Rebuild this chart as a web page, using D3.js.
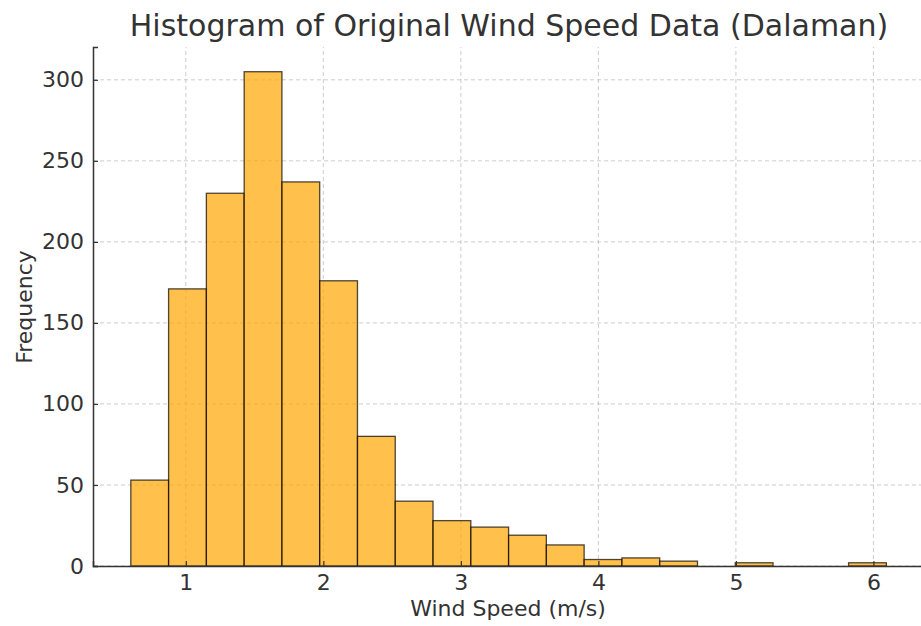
<!DOCTYPE html>
<html>
<head>
<meta charset="utf-8">
<script src="https://cdn.jsdelivr.net/npm/d3@7"></script>
<style>
  body { margin: 0; background: #fff; }
  text { font-family: "DejaVu Sans", sans-serif; fill: #333; }
</style>
</head>
<body>
<script>
// bin edges and counts
var binStart = 0.6;
var binEnd = 6.094;
var counts = [53, 171, 230, 305, 237, 176, 80, 40, 28, 24, 19, 13, 4, 5, 3, 0, 2, 0, 0, 2];
var xTicks = [1, 2, 3, 4, 5, 6];
var yTicks = [0, 50, 100, 150, 200, 250, 300];

var width = 921, height = 626;
var svg = d3.select("body").append("svg")
    .attr("width", width)
    .attr("height", height);

// matplotlib-style 5% padding: plot runs a bit past the right edge
var x = d3.scaleLinear().domain([0.325, 6.375]).range([93, 925]);
var y = d3.scaleLinear().domain([0, 320.25]).range([566, 47]);

var binW = (binEnd - binStart) / counts.length;
var bins = counts.map(function(c, i) {
    return { x0: binStart + i * binW, x1: binStart + (i + 1) * binW, n: c };
});

// grid
var grid = svg.append("g")
    .attr("stroke", "#b0b0b0")
    .attr("stroke-opacity", 0.7)
    .attr("stroke-dasharray", "4,3")
    .attr("stroke-width", 0.9);
grid.selectAll(".gx").data(xTicks).enter().append("line")
    .attr("x1", d => x(d)).attr("x2", d => x(d))
    .attr("y1", y.range()[0]).attr("y2", y.range()[1]);
grid.selectAll(".gy").data(yTicks).enter().append("line")
    .attr("x1", x.range()[0]).attr("x2", x.range()[1])
    .attr("y1", d => y(d)).attr("y2", d => y(d));

// bars
svg.append("g").selectAll("rect")
    .data(bins.filter(d => d.n > 0))
    .enter().append("rect")
    .attr("x", d => x(d.x0))
    .attr("width", d => x(d.x1) - x(d.x0))
    .attr("y", d => y(d.n))
    .attr("height", d => y(0) - y(d.n))
    .attr("fill", "#ffa500")
    .attr("fill-opacity", 0.7)
    .attr("stroke", "#000")
    .attr("stroke-opacity", 0.7)
    .attr("stroke-width", 1.3);

// axes (ticks point inward)
var xAxis = svg.append("g")
    .attr("transform", "translate(0," + y(0) + ")")
    .call(d3.axisBottom(x).tickValues(xTicks).tickFormat(d3.format("d"))
        .tickSize(-5).tickPadding(7));
var yAxis = svg.append("g")
    .attr("transform", "translate(" + x.range()[0] + ",0)")
    .call(d3.axisLeft(y).tickValues(yTicks).tickSize(-5).tickPadding(9));

[xAxis, yAxis].forEach(function(a) {
    a.select(".domain").attr("stroke", "#333").attr("stroke-width", 1.5);
    a.selectAll(".tick line").attr("stroke", "#333").attr("stroke-width", 1.2);
    a.selectAll("text").attr("font-size", 22).attr("fill", "#333")
        .style("font-family", "DejaVu Sans");
});
xAxis.selectAll("text").attr("dy", "0.75em");

// labels
svg.append("text")
    .attr("x", 509).attr("y", 36)
    .attr("text-anchor", "middle")
    .attr("font-size", 30)
    .text("Histogram of Original Wind Speed Data (Dalaman)");

svg.append("text")
    .attr("x", 508).attr("y", 616)
    .attr("text-anchor", "middle")
    .attr("font-size", 22)
    .text("Wind Speed (m/s)");

svg.append("text")
    .attr("transform", "translate(32,307) rotate(-90)")
    .attr("text-anchor", "middle")
    .attr("font-size", 22)
    .text("Frequency");
</script>
</body>
</html>
